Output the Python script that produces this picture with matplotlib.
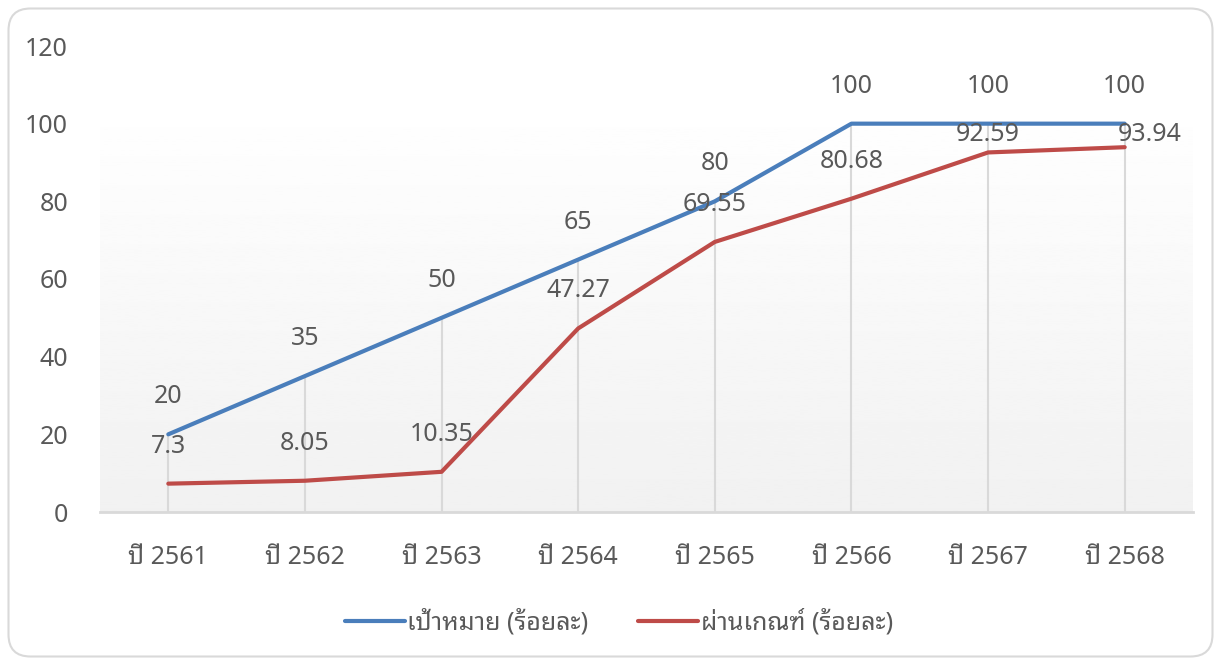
import numpy as np
import matplotlib.pyplot as plt
from matplotlib.patches import FancyBboxPatch
from matplotlib.transforms import IdentityTransform

plt.rcParams['font.family'] = ['Noto Sans', 'Noto Sans Thai Looped', 'Noto Sans Thai',
                               'Loma', 'Garuda', 'DejaVu Sans']

years = ['ปี 2561', 'ปี 2562', 'ปี 2563', 'ปี 2564', 'ปี 2565', 'ปี 2566', 'ปี 2567', 'ปี 2568']
target = [20, 35, 50, 65, 80, 100, 100, 100]
passed = [7.3, 8.05, 10.35, 47.27, 69.55, 80.68, 92.59, 93.94]
target_name = 'เป้าหมาย (ร้อยละ)'
passed_name = 'ผ่านเกณฑ์ (ร้อยละ)'

# label offsets in points (dx, dy)
target_off = [(0, 27)] * 8
passed_off = [(0, 27)] * 6 + [(0, 13), (18, 9)]

blue = '#4a7ebb'
red = '#be4b48'
txt = '#595959'
grid = '#d9d9d9'
fs = 18

fig = plt.figure(figsize=(12.15, 6.58), dpi=100)
ax = fig.add_axes([100 / 1215, 146 / 658, 1093 / 1215, 466 / 658])

# rounded chart border, in pixels
fig.patches.append(FancyBboxPatch((8.5, 1.5), 1204, 648,
                                  boxstyle='round,pad=0,rounding_size=22',
                                  transform=IdentityTransform(), fc='none', ec=grid, lw=1.5))

x = np.arange(len(years))
ax.set_xlim(-0.5, len(years) - 0.5)
ax.set_ylim(0, 120)

# soft vertical gradient behind the plot
grad = np.linspace(0.945, 1.0, 256).reshape(-1, 1)
ax.imshow(grad, cmap='gray', vmin=0, vmax=1, aspect='auto', origin='lower',
          extent=[0, 1, 0, 0.89], transform=ax.transAxes, zorder=0)

# drop lines
ax.vlines(x, 0, np.maximum(target, passed), color=grid, lw=1.5, zorder=1)

ax.plot(x, target, color=blue, lw=3, solid_capstyle='round', label=target_name, zorder=3)
ax.plot(x, passed, color=red, lw=3, solid_capstyle='round', label=passed_name, zorder=3)

for i, v in enumerate(target):
    ax.annotate(f'{v:g}', (x[i], v), xytext=target_off[i], textcoords='offset points',
                ha='center', va='center', fontsize=fs, color=txt)
for i, v in enumerate(passed):
    ax.annotate(f'{v:g}', (x[i], v), xytext=passed_off[i], textcoords='offset points',
                ha='center', va='center', fontsize=fs, color=txt)

ax.set_xticks(x)
ax.set_xticklabels(years)
ax.set_yticks(range(0, 121, 20))
ax.tick_params(axis='both', length=0, labelsize=fs, labelcolor=txt)
ax.tick_params(axis='y', pad=23)
ax.tick_params(axis='x', pad=24)
for s in ['top', 'right', 'left']:
    ax.spines[s].set_visible(False)
ax.spines['bottom'].set_color(grid)
ax.spines['bottom'].set_linewidth(2)

leg = fig.legend(loc='center', bbox_to_anchor=(619 / 1215, 1 - 622 / 658), ncol=2,
                 frameon=False, fontsize=fs, labelcolor=txt, handlelength=2.4,
                 handletextpad=0.1, columnspacing=2.0)

fig.savefig('out.png', dpi=100)
